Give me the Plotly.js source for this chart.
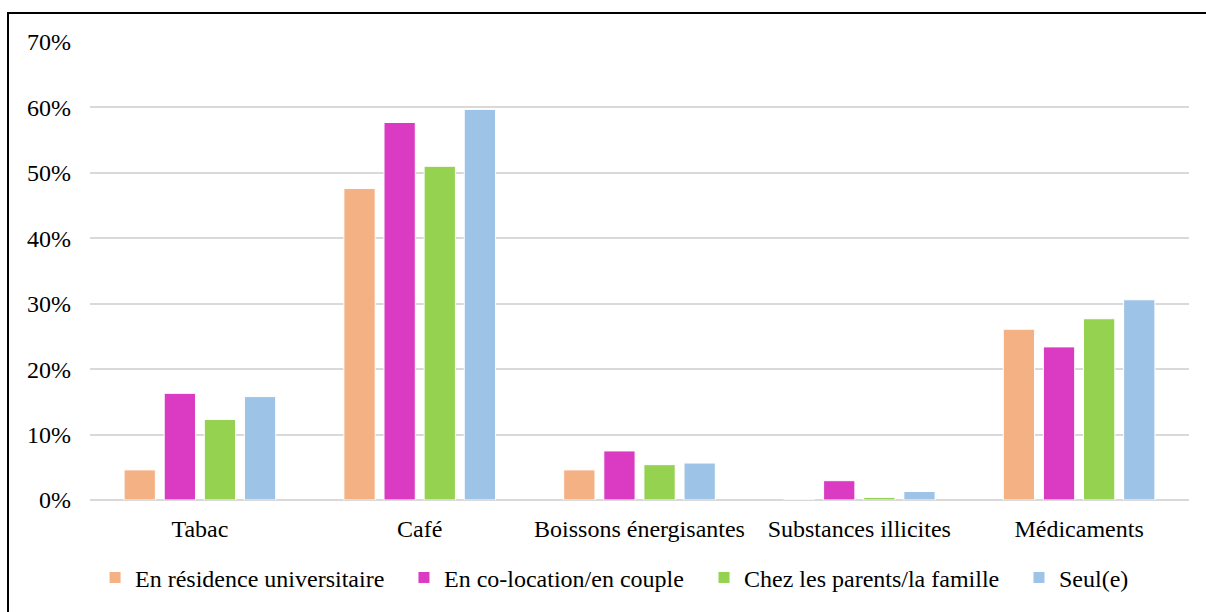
<!DOCTYPE html>
<html>
<head>
<meta charset="utf-8">
<script src="https://cdn.plot.ly/plotly-3.0.1.min.js"></script>
<style>
  html, body { margin: 0; padding: 0; background: #fff; overflow: hidden; }
  #chart { position: absolute; left: 0; top: 0; width: 1206px; height: 612px; }
  #frame { position: absolute; left: 7px; top: 12px; width: 1400px; height: 800px;
           border: 2px solid #000; pointer-events: none; }
</style>
</head>
<body>
<div id="chart"></div>
<div id="frame"></div>
<script>
const categories = ["Tabac", "Café", "Boissons énergisantes", "Substances illicites", "Médicaments"];
const seriesNames = ["En résidence universitaire", "En co-location/en couple", "Chez les parents/la famille", "Seul(e)"];
const residence = [4.6, 47.6, 4.6, 0, 26.1];
const colocation = [16.3, 57.7, 7.5, 2.95, 23.4];
const parents = [12.3, 51.0, 5.4, 0.4, 27.7];
const seul = [15.8, 59.7, 5.65, 1.3, 30.6];
const colors = ["#f4b183", "#da3bc2", "#94d250", "#9dc3e6"];
const values = [residence, colocation, parents, seul];

const font = "Liberation Serif";
const legendIds = ["legend", "legend2", "legend3", "legend4"];
const legendX = [0.0046, 0.2857, 0.5587, 0.8453];

const traces = values.map((v, i) => ({
  type: "bar",
  name: seriesNames[i],
  x: categories,
  y: v,
  legend: legendIds[i],
  marker: { color: colors[i], line: { color: "#ffffff", width: 1 } },
  hoverinfo: "x+y+name"
}));

const layout = {
  width: 1206,
  height: 612,
  margin: { l: 90, r: 17, t: 42, b: 112, autoexpand: false },
  paper_bgcolor: "rgba(0,0,0,0)",
  plot_bgcolor: "#ffffff",
  barmode: "group",
  bargap: 0.27,
  bargroupgap: 0.22,
  font: { family: font, size: 24, color: "#000" },
  xaxis: {
    type: "category",
    showgrid: false,
    showline: false,
    ticks: "",
    ticklabelstandoff: 12,
    tickfont: { family: font, size: 24, color: "#000" }
  },
  yaxis: {
    range: [0, 70],
    dtick: 10,
    ticksuffix: "%",
    showgrid: true,
    gridcolor: "#d9d9d9",
    gridwidth: 2,
    zeroline: true,
    zerolinecolor: "#d9d9d9",
    zerolinewidth: 2,
    showline: false,
    ticks: "",
    ticklabelstandoff: 18,
    tickfont: { family: font, size: 24, color: "#000" }
  },
  showlegend: true
};

legendIds.forEach((id, i) => {
  layout[id] = {
    orientation: "h",
    x: legendX[i],
    xanchor: "left",
    y: -0.17,
    yanchor: "middle",
    bgcolor: "rgba(0,0,0,0)",
    font: { family: font, size: 24, color: "#000" },
    itemwidth: 30
  };
});

Plotly.newPlot("chart", traces, layout, { displayModeBar: false, staticPlot: true });
</script>
</body>
</html>
